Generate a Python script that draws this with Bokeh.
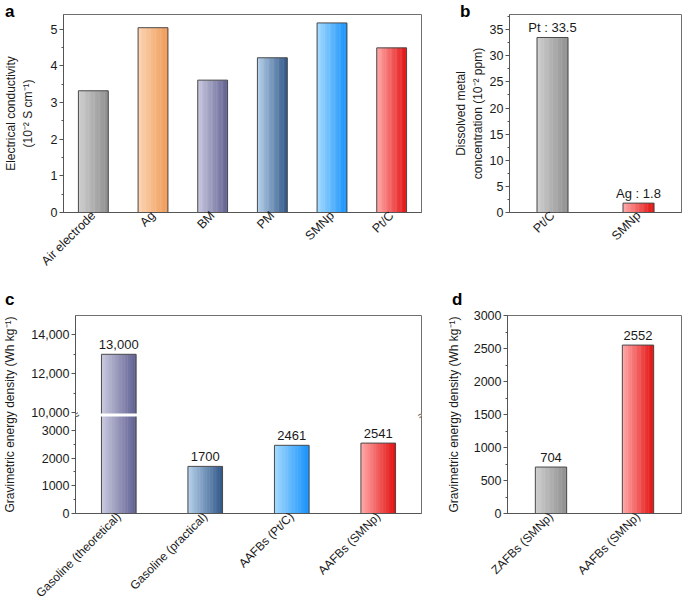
import math
from bokeh.plotting import figure
from bokeh.layouts import column, row
from bokeh.models import (ColumnDataSource, SingleIntervalTicker, FixedTicker, Label, Div,
                          BoxAnnotation, CustomJSTransform, CustomJSTickFormatter, Range1d)
from bokeh.transform import dodge, transform
from bokeh.core.properties import value
from bokeh.embed import file_html
from bokeh.resources import INLINE

# ---------------- data ----------------
a_categories = ["Air electrode", "Ag", "BM", "PM", "SMNp", "Pt/C"]
a_values = [3.32, 5.04, 3.61, 4.22, 5.17, 4.49]

b_categories = ["Pt/C", "SMNp"]
b_values = [33.5, 1.8]
b_metals = ["Pt", "Ag"]

c_categories = ["Gasoline (theoretical)", "Gasoline (practical)", "AAFBs (Pt/C)", "AAFBs (SMNp)"]
c_values = [13000, 1700, 2461, 2541]
c_major_ticks = [0, 1000, 2000, 3000, 10000, 12000, 14000]
c_minor_ticks = [500, 1500, 2500, 11000, 13000]

d_categories = ["ZAFBs (SMNp)", "AAFBs (SMNp)"]
d_values = [704, 2552]

panel_letters = ["a", "b", "c", "d"]

# ---------------- styles ----------------
FONT = "Liberation Sans"
TXT = "#1a1a1a"
AXC = "#555555"
GRAY = ("#cecece", "#909090")
ORANGE = ("#fbd4b2", "#ef9c58")
PURPLE = ("#c8c8de", "#636394")
STEEL = ("#b5d0ea", "#33598a")
BLUE = ("#a2d9ff", "#1893fb")
RED = ("#ffa8a8", "#e41212")
a_colors = [GRAY, ORANGE, PURPLE, STEEL, BLUE, RED]
b_colors = [GRAY, RED]
c_colors = [PURPLE, STEEL, BLUE, RED]
d_colors = [GRAY, RED]
NS = 24

# broken-axis mapping for panel c
LOW_TOP, HIGH_BOT, GAP, K = 3500, 9950, 110, 0.7
C_TOP = 15000


def brk(v):
    return v if v <= LOW_TOP else LOW_TOP + GAP + (v - HIGH_BOT) * K


def mix(c1, c2, t):
    a = [int(c1[i:i + 2], 16) for i in (1, 3, 5)]
    b = [int(c2[i:i + 2], 16) for i in (1, 3, 5)]
    return "#%02x%02x%02x" % tuple(round(x + (y - x) * t) for x, y in zip(a, b))


def base_fig(cats, width, height, y_end, border, xfs, ylab_standoff):
    l, r, t, b = border
    p = figure(x_range=cats, y_range=Range1d(0, y_end), width=width, height=height,
               output_backend="svg", toolbar_location=None,
               min_border_left=l, min_border_right=r, min_border_top=t, min_border_bottom=b)
    p.xgrid.visible = False
    p.ygrid.visible = False
    p.outline_line_color = "#707070"
    p.outline_line_width = 1
    p.background_fill_color = "white"
    p.border_fill_color = "white"
    for ax in (p.xaxis[0], p.yaxis[0]):
        ax.axis_line_color = AXC
        ax.major_label_text_font = FONT
        ax.major_label_text_color = TXT
        ax.axis_label_text_font = FONT
        ax.axis_label_text_font_style = "normal"
        ax.axis_label_text_color = TXT
        ax.axis_label_text_font_size = "12px"
    xa = p.xaxis[0]
    xa.major_tick_line_color = None
    xa.minor_tick_line_color = None
    xa.major_tick_out = 0
    xa.major_tick_in = 0
    xa.minor_tick_out = 0
    xa.minor_tick_in = 0
    xa.major_label_orientation = math.pi / 4
    xa.major_label_text_font_size = xfs
    xa.major_label_standoff = 1
    ya = p.yaxis[0]
    ya.major_tick_in = 0
    ya.major_tick_out = 4
    ya.minor_tick_in = 0
    ya.minor_tick_out = 2
    ya.major_tick_line_color = AXC
    ya.minor_tick_line_color = AXC
    ya.major_label_text_font_size = "12.5px"
    ya.major_label_standoff = 2
    ya.axis_label_standoff = ylab_standoff
    return p


def gradient_bars(p, cats, vals, colors, width, top_spec="val"):
    data = dict(cat=cats, val=vals)
    for k in range(NS):
        t = k / (NS - 1)
        data[f"c{k}"] = [mix(lo, hi, t) for lo, hi in colors]
    src = ColumnDataSource(data)
    sw = width / NS
    for k in range(NS):
        p.vbar(x=dodge("cat", -width / 2 + (k + 0.5) * sw, range=p.x_range), top=top_spec,
               width=sw * 1.35, fill_color=f"c{k}", line_color=None, source=src)
    p.vbar(x="cat", top=top_spec, width=width, fill_color=None, line_color="#4a4a4a",
           line_width=1, source=src)
    return src


def value_labels(p, cats, vals, texts, top_spec="val"):
    src = ColumnDataSource(dict(cat=cats, val=vals, lbl=texts))
    p.text(x="cat", y=top_spec, text="lbl", source=src, text_align="center",
           text_baseline="alphabetic", y_offset=-10, text_font=value(FONT),
           text_font_size="13px", text_color=TXT)


# ---------------- panel a ----------------
pa = base_fig(a_categories, 450, 283, 5.4, (55, 29, 14, 71), "12.5px", 13)
pa.yaxis[0].ticker = SingleIntervalTicker(interval=1, num_minor_ticks=2)
pa.yaxis[0].axis_label = "Electrical conductivity\n(10\u207b\u00b2 S cm\u207b\u00b9)"
gradient_bars(pa, a_categories, a_values, a_colors, 0.5)

# ---------------- panel b ----------------
pb = base_fig(b_categories, 235, 283, 37.9, (55, 4, 14, 71), "12.5px", 2)
pb.yaxis[0].ticker = SingleIntervalTicker(interval=5, num_minor_ticks=2)
pb.yaxis[0].axis_label = "Dissolved metal\nconcentration (10\u207b\u00b2 ppm)"
gradient_bars(pb, b_categories, b_values, b_colors, 0.36)
value_labels(pb, b_categories, b_values, [f"{m} : {v}" for m, v in zip(b_metals, b_values)])

# ---------------- panel c (broken axis) ----------------
pc = base_fig(c_categories, 443, 326, brk(C_TOP), (70, 22, 32, 96), "12px", 11)
tr = CustomJSTransform(args=dict(low_top=LOW_TOP, high_bot=HIGH_BOT, gap=GAP, k=K), v_func="""
const out = new Array(xs.length);
for (let i = 0; i < xs.length; i++) {
  const v = xs[i];
  out[i] = v <= low_top ? v : low_top + gap + (v - high_bot) * k;
}
return out;
""")
c_top = transform("val", tr)
pc.yaxis[0].ticker = FixedTicker(ticks=[brk(v) for v in c_major_ticks],
                                 minor_ticks=[brk(v) for v in c_minor_ticks])
pc.yaxis[0].formatter = CustomJSTickFormatter(
    args=dict(low_top=LOW_TOP, high_bot=HIGH_BOT, gap=GAP, k=K), code="""
const v = tick <= low_top + 1e-6 ? Math.round(tick) : Math.round((tick - low_top - gap) / k + high_bot);
return v >= 10000 ? v.toLocaleString('en-US') : String(v);
""")
pc.yaxis[0].axis_label = "Gravimetric energy density (Wh kg\u207b\u00b9)"
gradient_bars(pc, c_categories, c_values, c_colors, 0.4, c_top)
value_labels(pc, c_categories, c_values,
             [f"{v:,}" if v >= 10000 else str(v) for v in c_values], c_top)
pc.add_layout(BoxAnnotation(bottom=LOW_TOP, top=LOW_TOP + GAP, fill_color="white",
                            fill_alpha=1, line_color=None))
for xb in (0, len(c_categories)):
    pc.add_layout(Label(x=xb, y=LOW_TOP + GAP / 2, text="\u2248", angle=0.5,
                        text_align="center", text_baseline="middle", text_font=FONT,
                        text_font_size="13px", text_color="#555555"))

# ---------------- panel d ----------------
pd_ = base_fig(d_categories, 242, 326, 3000, (62, 4, 32, 96), "12px", 10)
pd_.yaxis[0].ticker = SingleIntervalTicker(interval=500, num_minor_ticks=2)
pd_.yaxis[0].axis_label = "Gravimetric energy density (Wh kg\u207b\u00b9)"
gradient_bars(pd_, d_categories, d_values, d_colors, 0.36)
value_labels(pd_, d_categories, d_values, [str(v) for v in d_values])

# ---------------- panel letters (overlay) ----------------
letter_pos = [(0, -2), (455, -2), (0, 286), (447, 286)]
spans = "".join(
    f'<span style="position:absolute;left:{x}px;top:{y}px;">{t}</span>'
    for t, (x, y) in zip(panel_letters, letter_pos))
letters = Div(text=spans, width=1, height=1,
              styles={"position": "absolute", "left": "0px", "top": "0px",
                      "font-family": FONT, "font-weight": "bold", "font-size": "17px",
                      "line-height": "1", "color": "black", "overflow": "visible",
                      "z-index": "10"})

layout = column(letters, row(pa, pb), row(pc, pd_))
open("out.html", "w").write(file_html(layout, INLINE))
